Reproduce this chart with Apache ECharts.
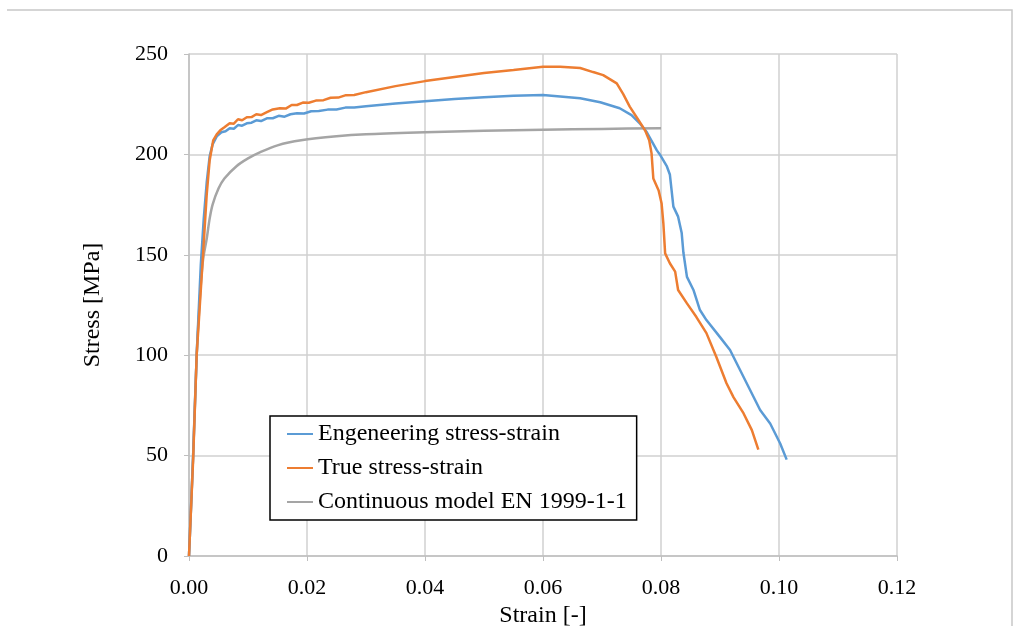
<!DOCTYPE html>
<html><head><meta charset="utf-8">
<script src="https://cdn.jsdelivr.net/npm/echarts@6/dist/echarts.min.js"></script>
<style>html,body{margin:0;padding:0;background:#fff}#c{width:1016px;height:626px}</style>
</head><body><div id="c"></div>
<script>
const seriesNames = ['Engeneering stress-strain', 'True stress-strain', 'Continuous model EN 1999-1-1'];
const xTicks = [0, 0.02, 0.04, 0.06, 0.08, 0.10, 0.12];
const yTicks = [0, 50, 100, 150, 200, 250];

const engStrain = [0,0.0007,0.0013,0.002,0.0025,0.003,0.0035,0.004,0.0047,0.0055,0.0062,0.0069,0.0076,0.0083,0.009,0.0098,0.0106,0.0114,0.0122,0.0132,0.0142,0.0152,0.0162,0.0172,0.0183,0.0195,0.0207,0.022,0.0235,0.025,0.0265,0.028,0.03,0.035,0.04,0.045,0.05,0.055,0.06,0.0663,0.0697,0.073,0.075,0.0764,0.0776,0.0793,0.0798,0.081,0.0815,0.0821,0.0829,0.0835,0.0838,0.0844,0.0855,0.0866,0.0877,0.09,0.0917,0.0934,0.0951,0.0968,0.0985,0.1002,0.1013];
const engStress = [0,50,100,145,168,186,199,205,209,211,211.5,213,212.8,214.6,214.3,215.5,215.8,217,216.6,218,218,219.2,218.8,220,220.5,220.4,221.5,221.6,222.3,222.4,223.3,223.3,224,225.4,226.5,227.6,228.5,229.2,229.6,228,226,223,219.6,215.5,211,202,200,194,190,174,169,161,151,139,132.5,122.5,117.5,109,102.6,92.6,82.7,72.7,66,56,48];

const trueStrain = [0,0.0007,0.0013,0.0024,0.003,0.0035,0.0041,0.0047,0.0053,0.006,0.0069,0.0076,0.0083,0.009,0.0098,0.0106,0.0114,0.0122,0.0132,0.0142,0.0154,0.0164,0.0174,0.0183,0.0193,0.0203,0.0215,0.0228,0.024,0.0253,0.0266,0.028,0.03,0.035,0.04,0.045,0.05,0.055,0.06,0.0629,0.0663,0.0685,0.0702,0.0725,0.0736,0.0747,0.0762,0.0773,0.078,0.0784,0.0787,0.0796,0.0801,0.0804,0.0807,0.0815,0.0824,0.0829,0.0844,0.086,0.0877,0.0894,0.0911,0.0923,0.094,0.0954,0.0965];
const trueStress = [0,48,100,151,180,197,207,210,212,213.5,215.5,215.3,217.5,217,218.5,218.6,220,219.6,221,222.4,223,222.8,224.6,224.6,225.8,225.7,226.8,227,228.2,228.3,229.5,229.6,231,234,236.5,238.5,240.5,242,243.6,243.7,243,241,239.5,235.4,230,223.8,217,212,207,200.5,188,182,175.6,165.7,150.7,145.8,141.6,132.5,125.8,119,111,99,86,79,71,62.7,53];

const modelStrain = [0,0.0007,0.0013,0.002,0.0024,0.003,0.0035,0.004,0.005,0.006,0.008,0.01,0.012,0.015,0.019,0.025,0.03,0.04,0.05,0.06,0.07,0.08];
const modelStress = [0,50,100,135,148,158,168,175,183,188,194,198,201,204.5,207,209,210,211,211.8,212.3,212.7,213];

const pairs = (xs, ys) => xs.map((x, i) => [x, ys[i]]);
const font = 'Liberation Serif';
const chart = echarts.init(document.getElementById('c'));
chart.setOption({
  animation: false,
  backgroundColor: '#fff',
  grid: {left: 189, right: 119, top: 54, bottom: 70, containLabel: false, outerBoundsMode: 'none'},
  xAxis: {
    type: 'value', min: 0, max: 0.12, interval: 0.02,
    name: 'Strain [-]', nameLocation: 'middle', nameGap: 45,
    nameTextStyle: {fontFamily: font, fontSize: 24, color: '#000'},
    axisLine: {show: true, lineStyle: {color: '#bfbfbf', width: 1.5}},
    axisTick: {show: true, length: 5, lineStyle: {color: '#bfbfbf'}},
    splitLine: {show: true, lineStyle: {color: '#d0d0d0', width: 1.5}},
    axisLabel: {fontFamily: font, fontSize: 22, color: '#000', margin: 21,
      formatter: v => { const t = xTicks.find(k => Math.abs(k - v) < 1e-9); return (t === undefined ? v : t).toFixed(2); }}
  },
  yAxis: {
    type: 'value', min: 0, max: 250, interval: 50,
    name: 'Stress [MPa]', nameLocation: 'middle', nameGap: 84,
    nameTextStyle: {fontFamily: font, fontSize: 24, color: '#000'},
    axisLine: {show: true, lineStyle: {color: '#bfbfbf', width: 1.5}},
    axisTick: {show: true, length: 5, lineStyle: {color: '#bfbfbf'}},
    splitLine: {show: true, lineStyle: {color: '#d0d0d0', width: 1.5}},
    axisLabel: {fontFamily: font, fontSize: 22, color: '#000', margin: 21,
      formatter: v => String(yTicks.find(k => k === v) ?? v)}
  },
  legend: {
    left: 270, top: 416, orient: 'vertical',
    data: seriesNames,
    icon: 'rect',
    backgroundColor: '#fff', borderColor: '#000', borderWidth: 1.5,
    padding: [6, 10, 6, 17], itemGap: 10, itemWidth: 26, itemHeight: 2,
    textStyle: {fontFamily: font, fontSize: 24, lineHeight: 24, color: '#000'}
  },
  graphic: [
    {type: 'polyline', shape: {points: [[7, 10], [1012, 10], [1012, 626]]}, style: {stroke: '#c8c8c8', lineWidth: 1.5, fill: null}, silent: true}
  ],
  series: [
    {name: seriesNames[2], type: 'line', data: pairs(modelStrain, modelStress), showSymbol: false, symbol: 'none', smooth: 0.3, lineStyle: {color: '#a5a5a5', width: 2.5}, itemStyle: {color: '#a5a5a5'}, z: 2},
    {name: seriesNames[0], type: 'line', data: pairs(engStrain, engStress), showSymbol: false, symbol: 'none', lineStyle: {color: '#5b9bd5', width: 2.5}, itemStyle: {color: '#5b9bd5'}, z: 3},
    {name: seriesNames[1], type: 'line', data: pairs(trueStrain, trueStress), showSymbol: false, symbol: 'none', lineStyle: {color: '#ed7d31', width: 2.5}, itemStyle: {color: '#ed7d31'}, z: 4}
  ]
});
</script></body></html>
